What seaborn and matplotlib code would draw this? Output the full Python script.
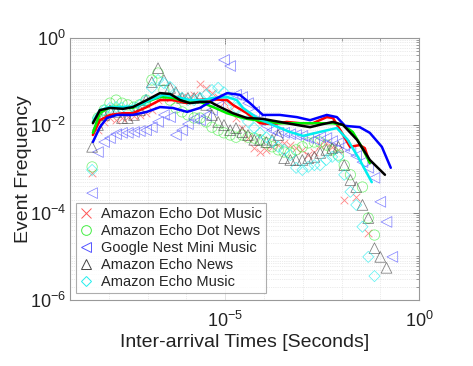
import numpy as np
import matplotlib
matplotlib.use("Agg")
import matplotlib.pyplot as plt
import seaborn as sns
from matplotlib.lines import Line2D
from matplotlib.ticker import FixedLocator, LogLocator, NullFormatter, LogFormatterSciNotation

# -----------------------------
# DATA (log10 of the values)
# -----------------------------
nan = np.nan

# shared marker bins, log10(seconds)
bin_exp = [-8.43, -8.28, -8.12, -7.97, -7.81, -7.66, -7.51, -7.35, -7.20, -7.04,
           -6.89, -6.73, -6.58, -6.42, -6.27, -6.11, -5.96, -5.80, -5.65, -5.49,
           -5.34, -5.18, -5.03, -4.87, -4.72, -4.56, -4.41, -4.25, -4.10, -3.94,
           -3.79, -3.63, -3.48, -3.32, -3.17, -3.01, -2.86, -2.70, -2.55, -2.39,
           -2.24, -2.08, -1.93, -1.77, -1.62, -1.46, -1.31, -1.15, -1.00, -0.84,
           -0.69]

dot_music_pts = [-3.09, -2.11, -1.92, -1.83, -1.88, -1.83, -1.81, -1.78, -1.76, -1.72,
                 -1.65, -1.42, -1.35, -1.37, -1.35, -1.35, -1.37, -1.30, -1.05, -1.14,
                 -1.26, -1.35, -1.46, -1.65, -1.83, -2.06, -2.29, -2.52, -2.61, -2.56,
                 -2.49, -2.45, -2.40, -2.45, -2.52, -2.56, -2.68, -2.61, -2.45, -2.40,
                 -2.49, -2.56, -3.71, nan, -3.64, nan, -4.46]

dot_news_pts = [-2.95, -1.83, -1.65, -1.49, -1.42, -1.49, -1.53, -1.58, -1.53, -1.42,
                -0.96, -0.80, -1.19, -1.42, -1.60, -1.69, -1.76, -1.83, -1.83, -1.92,
                -2.04, -2.11, -2.17, -2.22, -2.27, -2.22, -2.27, -2.29, -2.33, -2.40,
                -2.49, -2.56, -2.61, -2.63, -2.56, -2.49, -2.40, -2.38, -2.38, -2.45,
                -2.56, -2.68, -2.91, -3.13, nan, -3.41, -4.12, -4.51]

nest_music_pts = [-3.55, -2.61, -2.38, -2.29, -2.20, -2.17, -2.17, -2.15, -2.13, -2.11,
                  -2.04, -1.92, -1.76, -1.81, -2.22, -2.11, -1.97, -1.85, -1.88, -1.78,
                  -1.65, -1.56, -0.50, -0.64, -1.30, -1.35, -1.49, -1.69, -1.88, -2.01,
                  -2.11, -2.17, -2.17, -2.20, -2.22, -2.24, -2.29, -2.33, -2.27, -2.29,
                  -2.36, -2.40, -2.47, -2.59, -2.70, -2.84, -2.97, -3.20, -3.75, -4.21,
                  -5.01]

echo_news_pts = [-2.49, -1.99, -1.76, -1.65, -1.69, -1.83, -1.83, -1.76, -1.65, -1.42,
                 -1.01, -0.69, -0.96, -1.14, -1.24, -1.37, -1.37, -1.37, -1.37, -1.53,
                 -1.76, -1.92, -1.99, -2.11, -2.06, -2.15, -2.22, -2.33, -2.33, -2.38,
                 -2.33, -2.22, -2.75, -2.79, -2.79, -2.79, -2.75, -2.72, -2.63, -2.56,
                 -2.52, -2.49, -2.91, -3.25, -3.41, -3.82, -4.12, -4.81, -5.01, -5.26]

echo_music_pts = [-3.02, -1.83, -1.65, -1.60, -1.58, -1.60, -1.65, -1.60, -1.53, -1.42,
                  -1.14, -0.96, -1.03, -1.12, -1.30, -1.37, -1.42, -1.42, -1.37, -1.30,
                  -1.19, -1.14, -1.24, -1.42, -1.60, -1.76, -1.92, -2.06, -2.17, -2.27,
                  -2.38, -2.49, -2.56, -2.68, -2.97, -3.02, -2.95, -2.91, -2.91, -2.79,
                  -2.72, -2.72, -3.13, -3.52, -3.82, -4.32, -5.01, -5.45]

# smoothed curves
dot_music_fit_x = [-8.41, -8.23, -7.97, -7.63, -7.38, -7.02, -6.68, -6.35, -5.98, -5.73,
                   -5.39, -4.95, -4.80, -4.44, -4.10, -3.77, -3.41, -3.07, -2.74, -2.38,
                   -2.22, -1.99, -1.78, -1.53, -1.40, -1.27]
dot_music_fit_y = [-2.22, -1.88, -1.76, -1.72, -1.72, -1.58, -1.42, -1.42, -1.49, -1.42,
                   -1.40, -1.42, -1.53, -1.72, -1.95, -1.97, -1.92, -1.95, -1.95, -1.81,
                   -1.83, -2.17, -2.49, -2.45, -2.52, -2.86]

dot_news_fit_x = [-8.41, -8.23, -7.97, -7.63, -7.38, -7.02, -6.68, -6.35, -5.98, -5.65,
                  -5.31, -4.95, -4.62, -4.44, -4.03, -3.59, -3.15, -2.64, -2.22, -1.96,
                  -1.71, -1.48, -1.27]
dot_news_fit_y = [-2.17, -1.72, -1.58, -1.58, -1.60, -1.46, -1.35, -1.37, -1.46, -1.46,
                  -1.58, -1.72, -1.81, -1.85, -1.90, -1.95, -1.95, -1.95, -1.95, -1.99,
                  -2.15, -2.49, -2.86]

nest_music_fit_x = [-8.41, -8.23, -8.05, -7.79, -7.38, -7.02, -6.68, -6.35, -5.98, -5.65,
                    -5.31, -4.95, -4.62, -4.36, -4.03, -3.59, -3.15, -2.81, -2.38, -2.12,
                    -1.91, -1.53, -1.27, -0.96, -0.73]
nest_music_fit_y = [-2.38, -2.04, -1.83, -1.76, -1.76, -1.69, -1.58, -1.60, -1.69, -1.60,
                    -1.42, -1.26, -1.30, -1.49, -1.76, -1.76, -1.81, -1.88, -1.76, -1.81,
                    -2.01, -2.04, -2.17, -2.49, -2.97]

echo_news_fit_x = [-8.41, -8.23, -7.97, -7.63, -7.38, -7.02, -6.68, -6.42, -6.16, -5.91,
                   -5.65, -5.39, -5.13, -4.80, -4.44, -4.03, -3.59, -3.15, -2.81, -2.48,
                   -2.22, -1.96, -1.60, -1.27, -0.88]
echo_news_fit_y = [-1.95, -1.65, -1.60, -1.62, -1.58, -1.42, -1.26, -1.28, -1.42, -1.49,
                   -1.46, -1.46, -1.58, -1.72, -1.83, -1.85, -1.92, -1.99, -2.04, -1.97,
                   -1.92, -1.99, -2.33, -2.79, -3.13]

echo_music_fit_x = [-8.41, -8.23, -7.97, -7.63, -7.27, -6.94, -6.60, -6.24, -5.91, -5.57,
                    -5.31, -4.95, -4.70, -4.54, -4.18, -3.77, -3.33, -2.99, -2.56, -2.12,
                    -1.84, -1.53, -1.22]
echo_music_fit_y = [-1.92, -1.65, -1.58, -1.58, -1.56, -1.42, -1.30, -1.35, -1.42, -1.42,
                    -1.37, -1.35, -1.42, -1.60, -1.83, -1.99, -2.15, -2.24, -2.15, -2.06,
                    -2.33, -2.79, -3.30]

labels = ["Amazon Echo Dot Music", "Amazon Echo Dot News", "Google Nest Mini Music",
          "Amazon Echo News", "Amazon Echo Music"]

# -----------------------------
# STYLE
# -----------------------------
sns.set_theme(style="white")
plt.rcParams["font.family"] = ["Liberation Sans", "DejaVu Sans"]
plt.rcParams["mathtext.fontset"] = "custom"
plt.rcParams["mathtext.rm"] = "Liberation Sans"
plt.rcParams["mathtext.it"] = "Liberation Sans:italic"

series = [
    # points, fit x, fit y, marker, marker color, line color
    (dot_music_pts, dot_music_fit_x, dot_music_fit_y, "x", "#ff5555", "#ff0000"),
    (dot_news_pts, dot_news_fit_x, dot_news_fit_y, "o", "#44ee44", "#00ee00"),
    (nest_music_pts, nest_music_fit_x, nest_music_fit_y, "<", "#5555ff", "#0000ff"),
    (echo_news_pts, echo_news_fit_x, echo_news_fit_y, "^", "#444444", "#000000"),
    (echo_music_pts, echo_music_fit_x, echo_music_fit_y, "D", "#22eeee", "#00eeee"),
]
marker_size = {"x": 30, "o": 55, "<": 60, "^": 60, "D": 32}

fig = plt.figure(figsize=(4.73, 3.66), dpi=100)
ax = fig.add_axes([0.148, 0.180, 0.738, 0.716])

# markers
for pts, fx, fy, mk, mc, lc in series:
    xs = 10.0 ** np.array(bin_exp[:len(pts)])
    ys = 10.0 ** np.array(pts)
    if mk == "x":
        sns.scatterplot(x=xs, y=ys, marker=mk, s=marker_size[mk], color=mc,
                        linewidth=0.6, alpha=0.7, ax=ax, legend=False, zorder=2)
    else:
        sns.scatterplot(x=xs, y=ys, marker=mk, s=marker_size[mk], facecolors="none",
                        edgecolor=mc, linewidth=0.55, alpha=0.7, ax=ax, legend=False, zorder=2)

# smoothed lines
for idx in [0, 1, 4, 2, 3]:
    pts, fx, fy, mk, mc, lc = series[idx]
    sns.lineplot(x=10.0 ** np.array(fx), y=10.0 ** np.array(fy), color=lc,
                 linewidth=1.8, sort=False, estimator=None, ax=ax, zorder=3)

ax.set_xscale("log")
ax.set_yscale("log")
ax.set_xlim(1e-9, 1e0)
ax.set_ylim(1e-6, 1e0)

# ticks
ax.xaxis.set_major_locator(FixedLocator([1e-5, 1e0]))
ax.xaxis.set_minor_locator(FixedLocator([10.0 ** e for e in range(-9, 1)]))
ax.xaxis.set_major_formatter(LogFormatterSciNotation())
ax.xaxis.set_minor_formatter(NullFormatter())
ax.yaxis.set_major_locator(FixedLocator([1e-6, 1e-4, 1e-2, 1e0]))
ax.yaxis.set_minor_locator(LogLocator(base=10, subs=np.arange(1, 10), numticks=100))
ax.yaxis.set_major_formatter(LogFormatterSciNotation())
ax.yaxis.set_minor_formatter(NullFormatter())

ax.tick_params(which="both", direction="in", top=True, right=True, colors="#777777",
               labelcolor="#222222", labelsize=13)
ax.tick_params(which="major", length=4, width=0.6)
ax.tick_params(which="minor", length=2, width=0.5)
ax.tick_params(axis="x", pad=8)
ax.tick_params(axis="y", pad=3)

ax.grid(True, which="major", color="#dddddd", linewidth=0.6, linestyle="-")
ax.grid(True, which="minor", color="#d8d8d8", linewidth=0.5, linestyle=":")
ax.set_axisbelow(True)

for sp in ax.spines.values():
    sp.set_color("#999999")
    sp.set_linewidth(0.8)

ax.set_xlabel("Inter-arrival Times [Seconds]", fontsize=14, color="#222222", labelpad=2)
ax.set_ylabel("Event Frequency", fontsize=14, color="#222222")
ax.yaxis.set_label_coords(-0.11, 0.5)

# legend (markers only)
handles = []
for (pts, fx, fy, mk, mc, lc), lab in zip(series, labels):
    handles.append(Line2D([], [], linestyle="none", marker=mk, color=mc,
                          markerfacecolor="none", markersize=7 if mk != "D" else 5.5,
                          markeredgewidth=0.7, label=lab))
leg = ax.legend(handles=handles, loc="lower left", bbox_to_anchor=(0.005, 0.01),
                fontsize=10.5, frameon=True, fancybox=False, borderpad=0.3,
                handlelength=0.8, handletextpad=0.6, labelspacing=0.2, borderaxespad=0.3)
leg.get_frame().set_edgecolor("#999999")
leg.get_frame().set_linewidth(0.8)

fig.savefig("out.png", dpi=100)
